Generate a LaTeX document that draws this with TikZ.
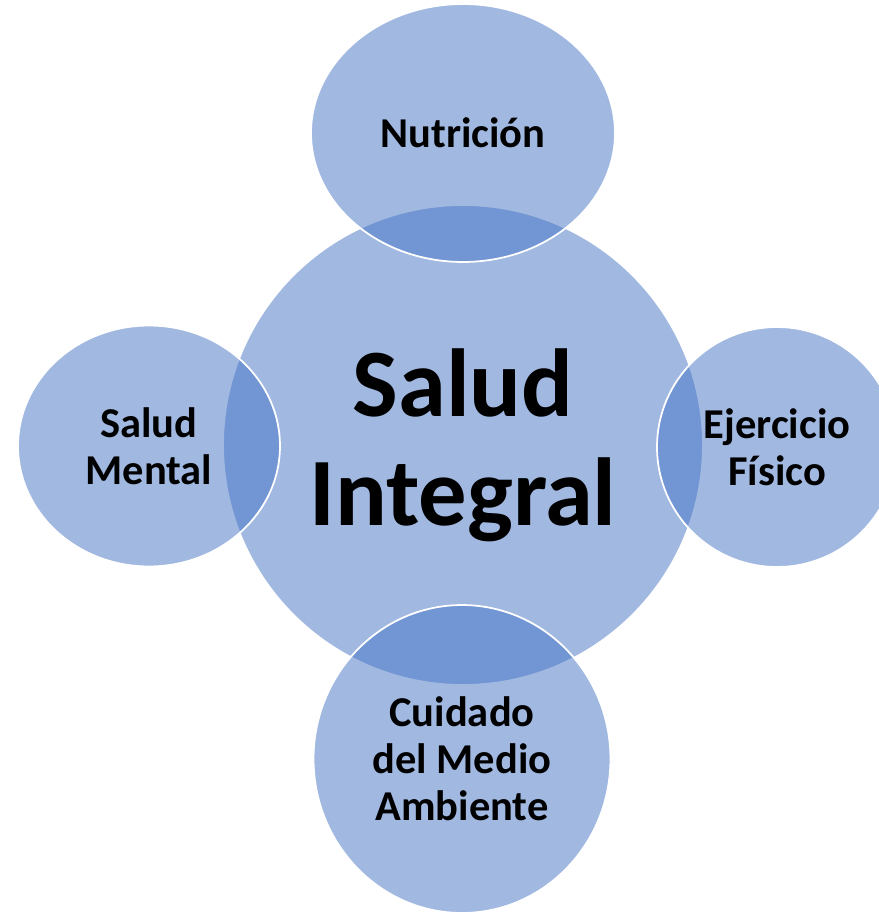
\documentclass[tikz,border=0pt]{standalone}
\usepackage{fontspec}
\setmainfont{Carlito}
\usetikzlibrary{shapes.geometric}

\definecolor{petal}{HTML}{4472C4}

\begin{document}
\begin{tikzpicture}[x=0.02cm,y=-0.02cm,
  bubble/.style={ellipse, draw=white, line width=1pt, fill=petal, fill opacity=0.5, text opacity=1,
    inner sep=0pt, align=center, font=\bfseries\fontsize{24.2}{26.8}\selectfont}]
%frame
\clip (0,0) rectangle (879,914);
%centre
\node[bubble, minimum width=9.6cm, minimum height=9.6cm, font=\bfseries\fontsize{55}{62}\selectfont] (salud) at (463,445) {Salud\\Integral};
%petals
\node[bubble, minimum width=6.08cm, minimum height=5.16cm] (nutricion) at (463,133) {Nutrición};
\node[bubble, minimum width=5.24cm, minimum height=4.82cm] (mental) at (149,446) {Salud\\Mental};
\node[bubble, minimum width=4.8cm, minimum height=4.8cm] (ejercicio) at (777,447) {Ejercicio\\Físico};
\node[bubble, minimum width=5.94cm, minimum height=6.16cm] (ambiente) at (462,759) {Cuidado\\del Medio\\Ambiente};
\end{tikzpicture}
\end{document}
